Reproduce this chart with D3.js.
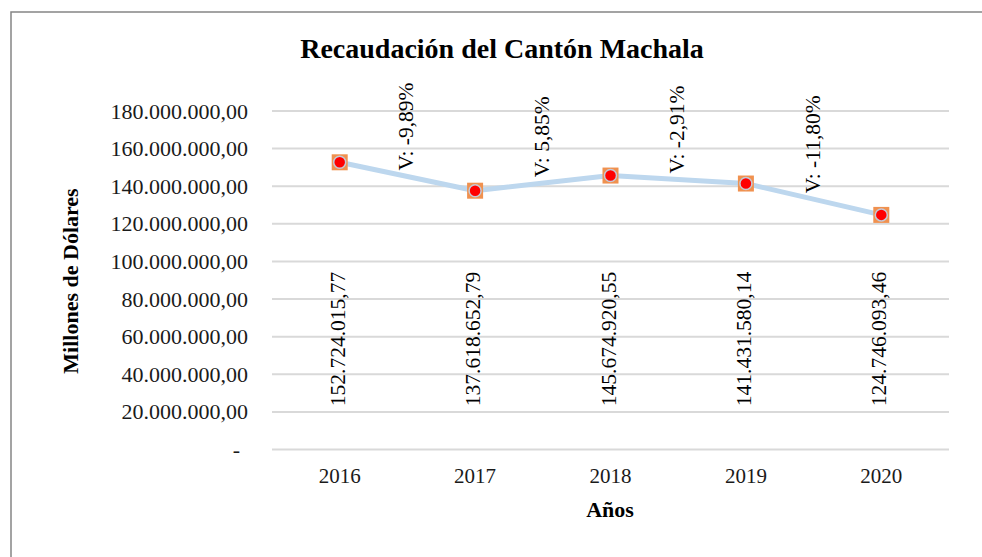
<!DOCTYPE html>
<html>
<head>
<meta charset="utf-8">
<script src="https://cdn.jsdelivr.net/npm/d3@7"></script>
<style>
  body { margin: 0; background: #fff; }
  text { font-family: "Liberation Serif", "Times New Roman", serif; }
</style>
</head>
<body>
<div id="chart"></div>
<script>
// datos
var years = ["2016", "2017", "2018", "2019", "2020"];
var recaudacion = [152724015.77, 137618652.79, 145674920.55, 141431580.14, 124746093.46];
var variaciones = ["-9,89%", "5,85%", "-2,91%", "-11,80%"];
var yTicks = [0, 20e6, 40e6, 60e6, 80e6, 100e6, 120e6, 140e6, 160e6, 180e6];

var width = 982,
    height = 557;

var svg = d3.select("#chart")
    .append("svg")
    .attr("width", width)
    .attr("height", height);

// marco del grafico
svg.append("rect")
    .attr("x", 11)
    .attr("y", 12)
    .attr("width", 1000)
    .attr("height", 600)
    .style("fill", "none")
    .style("stroke", "#858585")
    .style("stroke-width", "1.5px");

var es = d3.formatLocale({ decimal: ",", thousands: ".", grouping: [3], currency: ["", ""] });
var fmt = es.format(",.2f");

var x = d3.scaleBand()
    .domain(years)
    .range([272, 949]);

var y = d3.scaleLinear()
    .domain([0, 180e6])
    .range([449.5, 111]);

// lineas de cuadricula
svg.append("g")
    .selectAll("line")
    .data(yTicks)
    .join("line")
    .attr("x1", 272)
    .attr("x2", 949)
    .attr("y1", d => y(d))
    .attr("y2", d => y(d))
    .style("stroke", "#d9d9d9")
    .style("stroke-width", "2px");

var yAxis = d3.axisLeft(y)
    .tickValues(yTicks)
    .tickSize(0)
    .tickPadding(0)
    .tickFormat(d => d === 0 ? "-" : fmt(d));

var gy = svg.append("g")
    .attr("transform", "translate(248,0)")
    .call(yAxis);
gy.select(".domain").remove();
gy.selectAll(".tick text")
    .style("font-family", "Liberation Serif")
    .style("font-size", "22px")
    .style("fill", "#1a1a1a")
    .attr("dx", d => d === 0 ? "-8px" : null);

var xAxis = d3.axisBottom(x).tickSize(0).tickPadding(0);
var gx = svg.append("g")
    .attr("transform", "translate(0,468)")
    .call(xAxis);
gx.select(".domain").remove();
gx.selectAll(".tick text")
    .style("font-family", "Liberation Serif")
    .style("font-size", "21px")
    .style("fill", "#1a1a1a");

// linea
var cx = d => x(d) + x.bandwidth() / 2;
var line = d3.line()
    .x((d, i) => cx(years[i]))
    .y(d => y(d));

svg.append("path")
    .datum(recaudacion)
    .attr("d", line)
    .style("fill", "none")
    .style("stroke", "#bdd7ee")
    .style("stroke-width", "5px")
    .style("stroke-linejoin", "round");

// marcadores
var markers = svg.append("g")
    .selectAll("g")
    .data(recaudacion)
    .join("g")
    .attr("transform", (d, i) => "translate(" + cx(years[i]) + "," + y(d) + ")");

markers.append("rect")
    .attr("x", -8)
    .attr("y", -8)
    .attr("width", 16)
    .attr("height", 16)
    .style("fill", "#f0914f");

markers.append("circle")
    .attr("r", 6)
    .style("fill", "#ff0000")
    .style("stroke", "#c5c9d6")
    .style("stroke-width", "1.5px");

// etiquetas de valor
svg.append("g")
    .selectAll("text")
    .data(recaudacion)
    .join("text")
    .attr("transform", (d, i) => "translate(" + (cx(years[i]) + 5) + ",339) rotate(-90)")
    .attr("text-anchor", "middle")
    .style("font-size", "21.5px")
    .style("fill", "#000")
    .text(d => fmt(d));

// etiquetas de variacion
svg.append("g")
    .selectAll("text")
    .data(variaciones)
    .join("text")
    .attr("transform", (d, i) => {
        var mx = (cx(years[i]) + cx(years[i + 1])) / 2;
        var my = y((recaudacion[i] + recaudacion[i + 1]) / 2) - 6;
        return "translate(" + (mx + 6) + "," + my + ") rotate(-90)";
    })
    .attr("text-anchor", "start")
    .style("font-size", "21.5px")
    .style("fill", "#000")
    .text(d => "V: " + d);

// titulos
svg.append("text")
    .attr("x", 502)
    .attr("y", 58)
    .attr("text-anchor", "middle")
    .attr("font-weight", "bold")
    .style("font-size", "28px")
    .text("Recaudación del Cantón Machala");

svg.append("text")
    .attr("transform", "translate(78,281) rotate(-90)")
    .attr("text-anchor", "middle")
    .attr("font-weight", "bold")
    .style("font-size", "22px")
    .text("Millones de Dólares");

svg.append("text")
    .attr("x", 610)
    .attr("y", 517)
    .attr("text-anchor", "middle")
    .attr("font-weight", "bold")
    .style("font-size", "22px")
    .text("Años");
</script>
</body>
</html>
